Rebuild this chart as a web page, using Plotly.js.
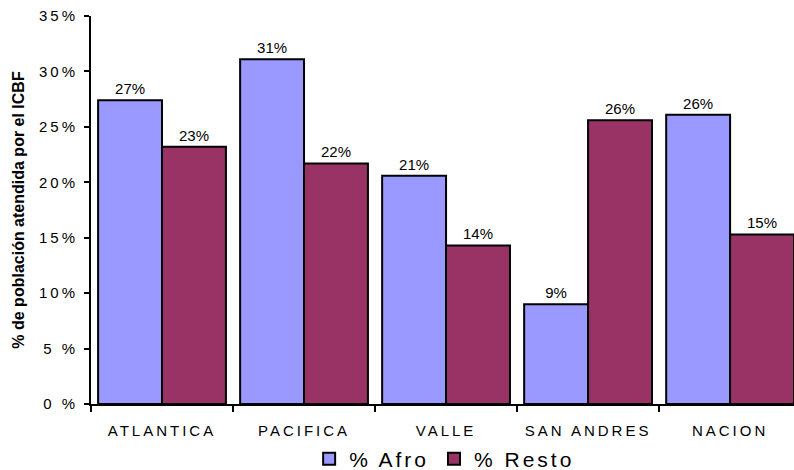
<!DOCTYPE html>
<html>
<head>
<meta charset="utf-8">
<script src="https://cdn.plot.ly/plotly-3.0.1.min.js"></script>
<style>
html,body{margin:0;padding:0;background:#fff;}
#chart{width:794px;height:470px;}
.xtick text{letter-spacing:3px;}
.ytick text{letter-spacing:3px;}
.textpoint text{letter-spacing:1.5px;}
.legendtext{letter-spacing:3px;}
</style>
</head>
<body>
<div id="chart"></div>
<script>
const categories = ["ATLANTICA", "PACIFICA", "VALLE", "SAN ANDRES", "NACION"];
const afro = [27.4, 31.1, 20.6, 9.0, 26.1];
const resto = [23.2, 21.7, 14.3, 25.6, 15.3];
const yTickVals = [0, 5, 10, 15, 20, 25, 30, 35];
const yTickText = ["0 %", "5 %", "10%", "15%", "20%", "25%", "30%", "35%"];

const font = "Liberation Sans, Arial, sans-serif";

const traces = [
  {
    type: "bar", name: "% Afro", x: categories, y: afro,
    marker: {color: "#9999FF", line: {color: "#000", width: 2}},
    text: afro.map(v => Math.round(v) + "%"), textposition: "outside",
    textfont: {family: font, size: 15, color: "#000"}, cliponaxis: false
  },
  {
    type: "bar", name: "% Resto", x: categories, y: resto,
    marker: {color: "#993366", line: {color: "#000", width: 2}},
    text: resto.map(v => Math.round(v) + "%"), textposition: "outside",
    textfont: {family: font, size: 15, color: "#000"}, cliponaxis: false
  }
];

const layout = {
  width: 794, height: 470,
  margin: {l: 91, r: 0, t: 16, b: 66, autoexpand: false},
  paper_bgcolor: "#fff", plot_bgcolor: "#fff",
  font: {family: font, color: "#000"},
  barmode: "group", bargap: 0.1, bargroupgap: 0,
  showlegend: true,
  legend: {
    orientation: "h", xref: "container", yref: "container",
    x: 0.56, xanchor: "center", y: 0.0234, yanchor: "middle",
    font: {family: font, size: 21, color: "#000"},
    itemwidth: 30, tracegroupgap: 0, bgcolor: "rgba(0,0,0,0)"
  },
  xaxis: {
    type: "category", range: [-0.5, 4.45],
    showline: true, linecolor: "#000", linewidth: 2,
    ticks: "outside", ticklen: 6, tickcolor: "#000", tickwidth: 2,
    tickson: "boundaries", ticklabelstandoff: 12,
    tickfont: {family: font, size: 15, color: "#000"},
    showgrid: false, zeroline: false, fixedrange: true
  },
  yaxis: {
    range: [0, 35], tickvals: yTickVals, ticktext: yTickText,
    showline: true, linecolor: "#000", linewidth: 2,
    ticks: "outside", ticklen: 5, tickcolor: "#000", tickwidth: 2,
    ticklabelstandoff: 3,
    tickfont: {family: font, size: 15, color: "#000"},
    showgrid: false, zeroline: false,
    title: {text: "% de población atendida por el ICBF", font: {family: font, size: 16, color: "#000", weight: "bold"}, standoff: 10}
  }
};

Plotly.newPlot("chart", traces, layout, {displayModeBar: false, staticPlot: true});
</script>
</body>
</html>
